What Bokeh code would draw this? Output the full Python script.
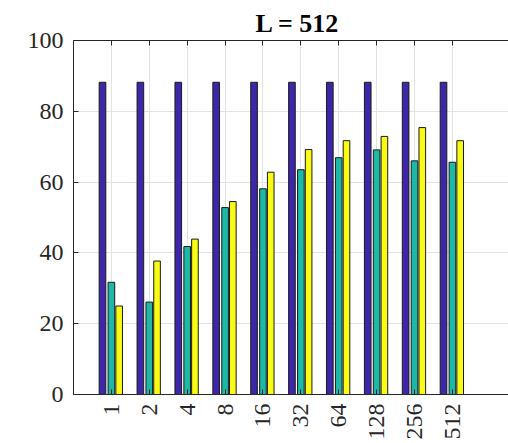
import numpy as np
from bokeh.plotting import figure
from bokeh.models import FixedTicker, LinearAxis, Range1d, ColumnDataSource
from bokeh.embed import file_html
from bokeh.resources import INLINE

categories = ["1", "2", "4", "8", "16", "32", "64", "128", "256", "512"]
series_a = [88.2, 88.2, 88.2, 88.2, 88.2, 88.2, 88.2, 88.2, 88.2, 88.2]
series_b = [31.7, 26.1, 41.8, 52.8, 58.1, 63.5, 66.9, 69.1, 66.0, 65.6]
series_c = [25.0, 37.7, 43.9, 54.5, 62.8, 69.2, 71.7, 72.9, 75.4, 71.7]
y_ticks = [0, 20, 40, 60, 80, 100]

pos = list(range(1, len(categories) + 1))
colors = ["#3e26a8", "#1db8a6", "#f9fb15"]
offsets = [-0.235, 0.0, 0.205]
bar_w = 0.175
FONT = "Liberation Serif"
TICK_FONT = "Times New Roman"

p = figure(width=508, height=443, output_backend="svg", toolbar_location=None,
           x_range=Range1d(0, 11.48), y_range=Range1d(0, 100),
           min_border_left=73, min_border_right=0, min_border_top=40,
           min_border_bottom=49, title="L = 512")
p.outline_line_color = None
p.background_fill_color = "white"
p.border_fill_color = "white"

p.title.text_font = FONT
p.title.text_font_style = "bold"
p.title.text_font_size = "26px"
p.title.align = "left"
p.title.offset = 182
p.title.text_color = "#000000"
p.title.standoff = 6

for vals, c, off in zip([series_a, series_b, series_c], colors, offsets):
    src = ColumnDataSource(dict(x=[q + off for q in pos], top=vals))
    p.vbar(x="x", top="top", bottom=0, width=bar_w, source=src,
           fill_color=c, line_color="#1a1a1a", line_width=1)

p.xaxis.ticker = FixedTicker(ticks=pos)
p.xaxis.major_label_overrides = {q: c for q, c in zip(pos, categories)}
p.xaxis.major_label_orientation = np.pi / 2
p.xaxis.major_label_standoff = 9
p.yaxis.ticker = FixedTicker(ticks=y_ticks)
p.yaxis.major_label_standoff = 10

for axs in [p.xaxis, p.yaxis]:
    axs.axis_line_color = "#262626"
    axs.major_tick_line_color = "#262626"
    axs.major_tick_in = 5
    axs.major_tick_out = 0
    axs.minor_tick_line_color = None
    axs.major_label_text_font = TICK_FONT
    axs.major_label_text_font_size = "24px"
    axs.major_label_text_color = "#262626"

top_ax = LinearAxis(ticker=FixedTicker(ticks=pos), axis_line_color="#262626",
                    major_tick_line_color="#262626", major_tick_in=5, major_tick_out=0,
                    minor_tick_line_color=None, major_label_text_font_size="1px",
                    major_label_text_color=None, major_label_standoff=0)
p.add_layout(top_ax, "above")

p.xgrid.ticker = FixedTicker(ticks=pos)
p.ygrid.ticker = FixedTicker(ticks=y_ticks)
p.grid.grid_line_color = "#e3e3e3"
p.grid.grid_line_width = 1

open("out.html", "w").write(file_html(p, INLINE))
